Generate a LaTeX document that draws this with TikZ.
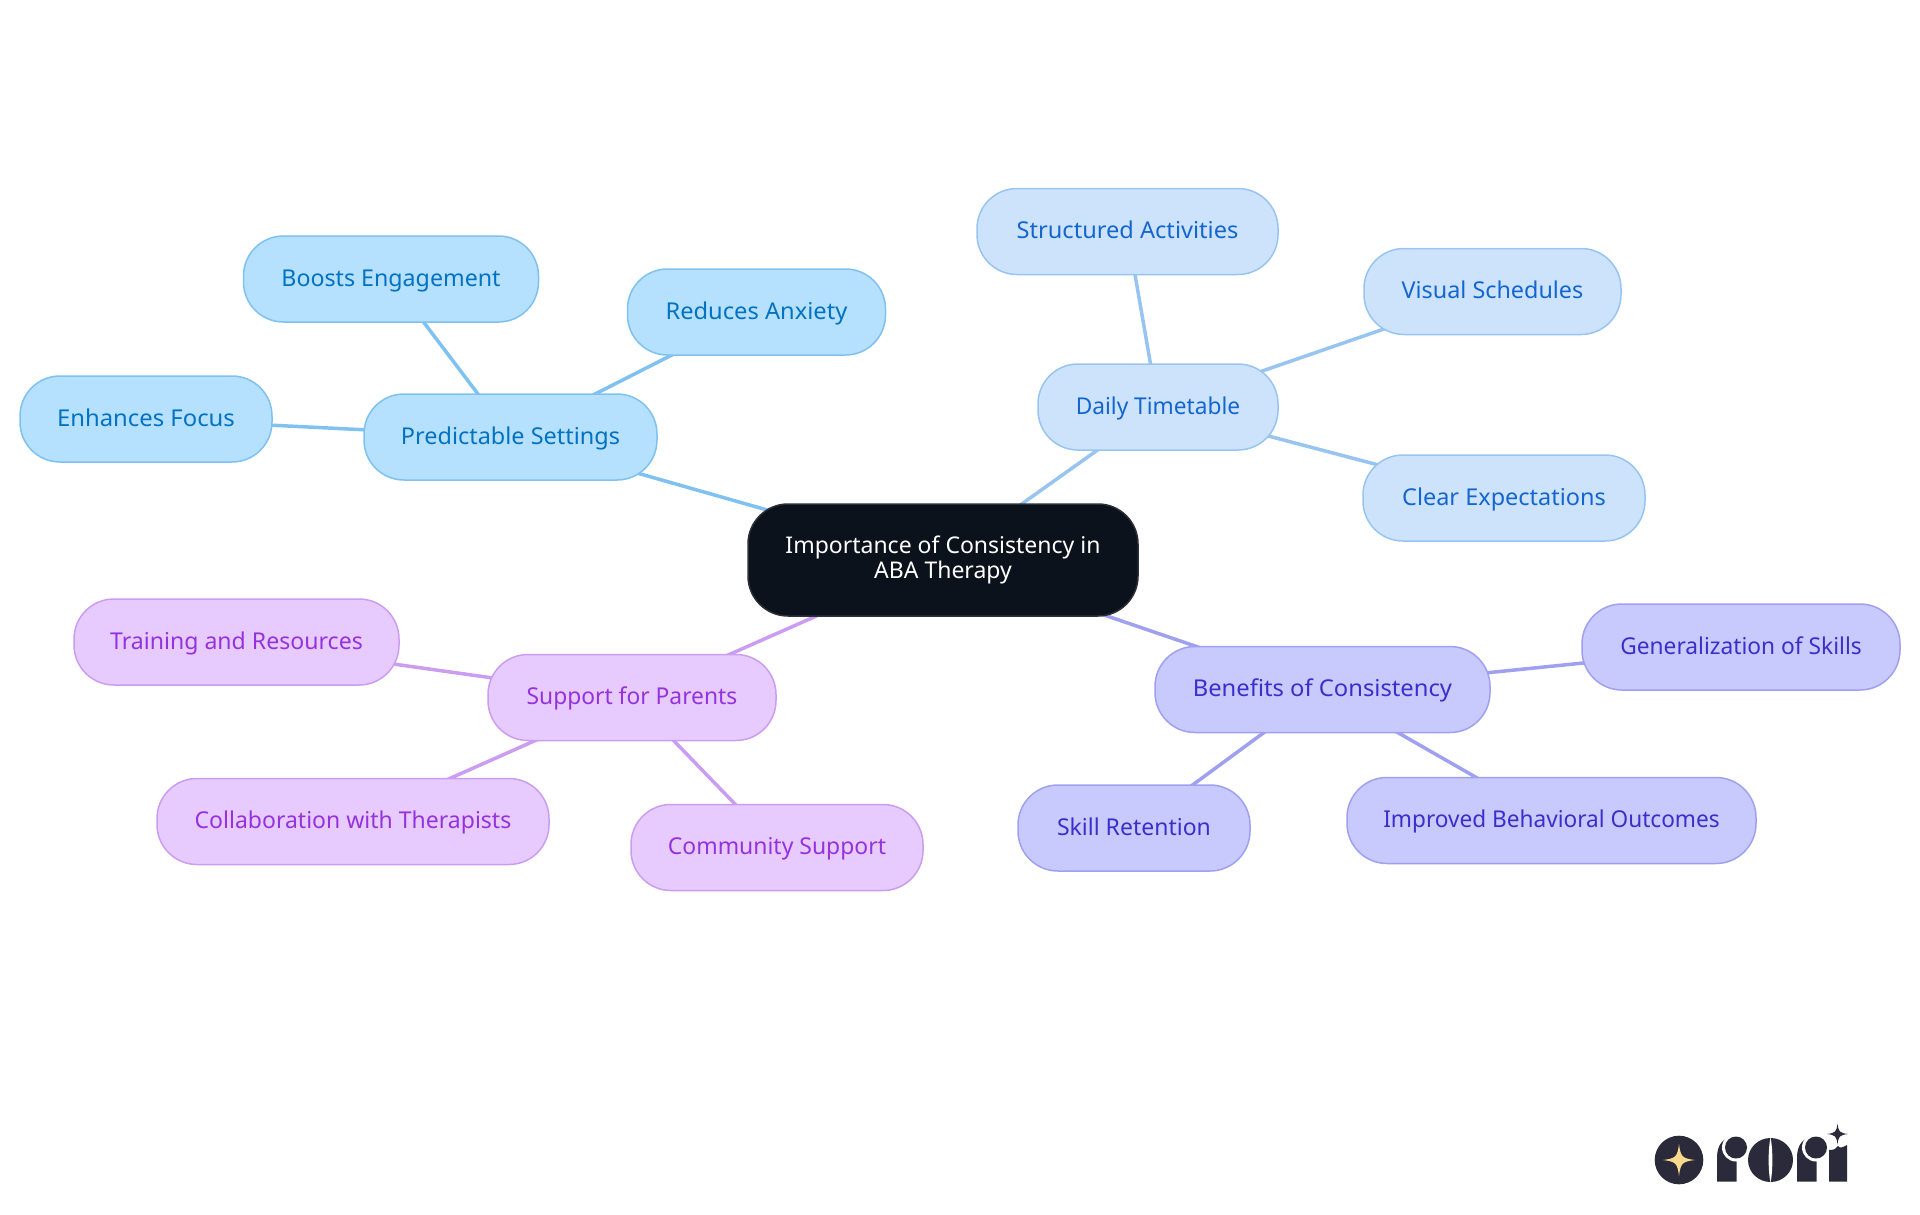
\documentclass[tikz,border=0pt]{standalone}
\usepackage{fontspec}
\setmainfont{Noto Sans}
\usetikzlibrary{backgrounds}
\definecolor{skyF}{HTML}{B5E0FE}\definecolor{skyS}{HTML}{7FC1F0}\definecolor{skyT}{HTML}{0272C2}
\definecolor{bluF}{HTML}{CDE3FC}\definecolor{bluS}{HTML}{98C4F2}\definecolor{bluT}{HTML}{1466CF}
\definecolor{indF}{HTML}{C8CAFD}\definecolor{indS}{HTML}{A0A0F2}\definecolor{indT}{HTML}{3A2FCB}
\definecolor{purF}{HTML}{E8CBFE}\definecolor{purS}{HTML}{CB9DF2}\definecolor{purT}{HTML}{9433DE}
\definecolor{rootF}{HTML}{0B121B}\definecolor{rootS}{HTML}{2C3036}
\definecolor{logoD}{HTML}{2A2A3A}\definecolor{logoG}{HTML}{FBD98A}
\tikzset{x=1pt,y=-1pt,
 mm/.style={draw,line width=1.5pt,rounded corners=40pt,inner sep=0pt,minimum height=86pt,text height=14.5pt,text depth=0pt,font=\fontsize{23.2}{25}\selectfont},
 sky/.style={mm,fill=skyF,draw=skyS,text=skyT},
 blu/.style={mm,fill=bluF,draw=bluS,text=bluT},
 ind/.style={mm,fill=indF,draw=indS,text=indT},
 pur/.style={mm,fill=purF,draw=purS,text=purT},
 root/.style={draw=rootS,fill=rootF,text=white,line width=1.5pt,rounded corners=40pt,inner sep=0pt,minimum width=390pt,minimum height=112pt,align=center,font=\fontsize{23}{25}\selectfont},
 link/.style={line width=3.5pt},
}
\newcommand{\st}[2]{{\addfontfeature{FakeStretch=#1}#2}}
\newcommand{\logostar}[4]{\fill[#4] (#1-#3,#2) .. controls (#1-0.2*#3,#2-0.1*#3) and (#1-0.1*#3,#2-0.2*#3) .. (#1,#2-#3) .. controls (#1+0.1*#3,#2-0.2*#3) and (#1+0.2*#3,#2-0.1*#3) .. (#1+#3,#2) .. controls (#1+0.2*#3,#2+0.1*#3) and (#1+0.1*#3,#2+0.2*#3) .. (#1,#2+#3) .. controls (#1-0.1*#3,#2+0.2*#3) and (#1-0.2*#3,#2+0.1*#3) .. (#1-#3,#2) -- cycle;}
\newcommand{\logor}[1]{%
 \fill[logoD] (#1,1181.5) -- (#1,1158) .. controls (#1,1147) and (#1+4,1139) .. (#1+14,1137.5) -- (#1+19.5,1150) -- (#1+19.5,1181.5) -- cycle;
 \fill[white] (#1+19,1147.5) circle (14);
 \fill[logoD] (#1+19,1147.5) circle (11);
}
\begin{document}
\begin{tikzpicture}
\useasboundingbox (0,0) rectangle (1920,1215);
\node[root] (c) at (943,560) {Importance of Consistency in\\ABA Therapy};
\node[sky,minimum width=293pt] (ps) at (510.5,437) {\st{1.011}{Predictable Settings}};
\node[sky,minimum width=295pt] (be) at (391,279) {Boosts Engagement};
\node[sky,minimum width=258pt] (ra) at (756.5,312) {\st{1.02}{Reduces Anxiety}};
\node[sky,minimum width=252pt] (ef) at (146,419) {\st{1.028}{Enhances Focus}};
\node[blu,minimum width=240pt] (dt) at (1158,407) {\st{0.978}{Daily Timetable}};
\node[blu,minimum width=301pt] (sa) at (1127.5,231.5) {\st{1.017}{Structured Activities}};
\node[blu,minimum width=257pt] (vs) at (1492.5,291.5) {\st{1.007}{Visual Schedules}};
\node[blu,minimum width=282pt] (ce) at (1504,498) {\st{1.012}{Clear Expectations}};
\node[ind,minimum width=335pt] (bc) at (1322.5,689.5) {\st{1.024}{Benefits of Consistency}};
\node[ind,minimum width=318pt] (gs) at (1741,647) {\st{0.98}{Generalization of Skills}};
\node[ind,minimum width=232pt] (sr) at (1134,828) {\st{0.992}{Skill Retention}};
\node[ind,minimum width=409pt] (ib) at (1551.5,820.5) {\st{0.975}{Improved Behavioral Outcomes}};
\node[pur,minimum width=288pt] (sp) at (632,697.5) {\st{0.983}{Support for Parents}};
\node[pur,minimum width=325pt] (tr) at (236.5,642) {\st{0.995}{Training and Resources}};
\node[pur,minimum width=392pt] (cw) at (353,821.5) {\st{0.992}{Collaboration with Therapists}};
\node[pur,minimum width=292pt] (cs) at (777,847.5) {\st{0.989}{Community Support}};
\begin{scope}[on background layer]
\draw[link,skyS] (c.center)--(ps.center) (ps.center)--(be.center) (ps.center)--(ra.center) (ps.center)--(ef.center);
\draw[link,bluS] (c.center)--(dt.center) (dt.center)--(sa.center) (dt.center)--(vs.center) (dt.center)--(ce.center);
\draw[link,indS] (c.center)--(bc.center) (bc.center)--(gs.center) (bc.center)--(sr.center) (bc.center)--(ib.center);
\draw[link,purS] (c.center)--(sp.center) (sp.center)--(tr.center) (sp.center)--(cw.center) (sp.center)--(cs.center);
\end{scope}
% logo
\fill[logoD] (1679,1160) circle (24.3);
\logostar{1679}{1160}{16}{logoG}
\logor{1717}
\fill[logoD] (1770.5,1160) ellipse (22.5 and 22);
\fill[white] (1770.5,1137) .. controls (1768,1150) and (1768,1170) .. (1770.5,1183) .. controls (1773,1170) and (1773,1150) .. (1770.5,1137) -- cycle;
\logor{1797}
\fill[logoD] (1829,1181.5) -- (1829,1150) .. controls (1834,1150) and (1836,1149) .. (1838,1146) .. controls (1840,1149) and (1843,1147) .. (1847,1145) -- (1847,1181.5) -- cycle;
\logostar{1837.5}{1134}{10.5}{logoD}
\end{tikzpicture}
\end{document}
